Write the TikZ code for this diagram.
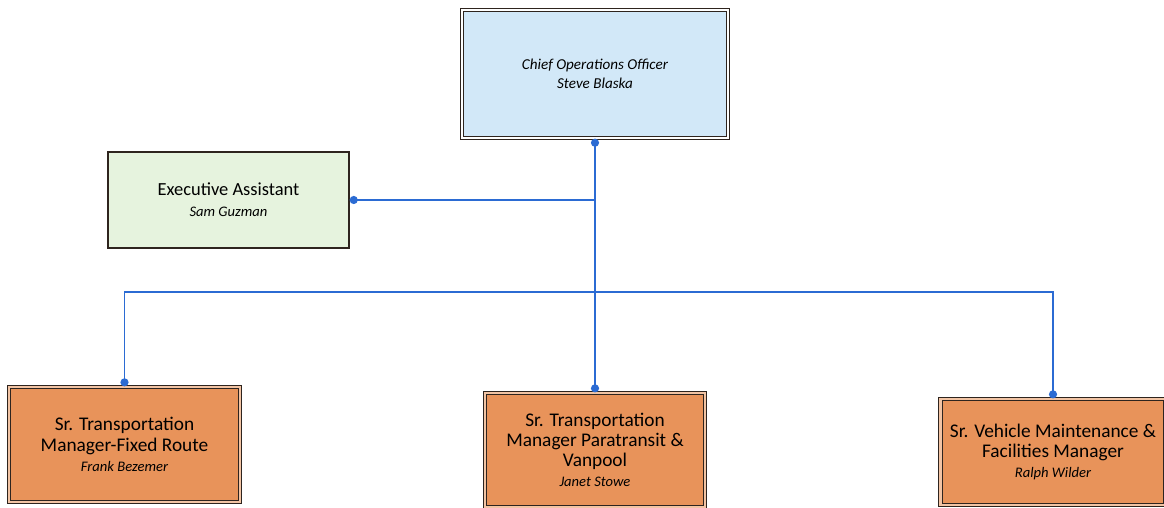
\documentclass[tikz,border=0pt]{standalone}
\usepackage{fontspec}
\setmainfont{Carlito}
\usetikzlibrary{arrows.meta}
\definecolor{cooblue}{HTML}{D2E8F8}
\definecolor{eagreen}{HTML}{E6F3DE}
\definecolor{mgrorange}{HTML}{E8935A}
\definecolor{linkblue}{HTML}{2B6BD3}
\definecolor{edgedark}{HTML}{2E241E}
\tikzset{every node/.style={align=center}, font=\fontsize{11}{11.5}\selectfont,
  box/.style={rectangle, draw=edgedark, line width=0.6pt, minimum width=4.5cm, minimum height=2.2cm},
  headbox/.style={box, fill=cooblue, double=white, double distance=1.2pt, line width=0.8pt},
  asstbox/.style={box, fill=eagreen, line width=0.8pt},
  mgrbox/.style={box, fill=mgrorange, double=mgrorange!55, double distance=1.2pt, line width=0.7pt},
  conn/.style={color=linkblue, line width=0.8pt},
  >={Circle[length=4.6pt]}}
\newcommand{\who}[1]{{\fontsize{8.3}{11}\selectfont\itshape #1}}

\begin{document}
\begin{tikzpicture}
            \useasboundingbox (0,0) rectangle (23.28,10.16);
            \node[headbox, minimum width=5.32cm, minimum height=2.56cm, font=\fontsize{8.6}{11}\selectfont\itshape] (coo) at (11.9,8.68) {Chief Operations Officer \\ Steve Blaska};
            \node[asstbox, minimum width=4.82cm, minimum height=1.92cm, font=\fontsize{10.5}{12}\selectfont] (ea) at (4.57,6.16) {Executive Assistant \\ \who{Sam Guzman}};
            \node[mgrbox, minimum width=4.62cm, minimum height=2.3cm] (fr) at (2.49,1.27) {Sr. Transportation \\ Manager-Fixed Route \\ \who{Frank Bezemer}};
            \node[mgrbox, minimum width=4.4cm, minimum height=2.28cm] (pv) at (11.9,1.16) {Sr. Transportation \\ Manager Paratransit \& \\ Vanpool \\ \who{Janet Stowe}};
            \node[mgrbox, minimum width=4.5cm, minimum height=2.12cm] (vm) at (21.06,1.12) {Sr. Vehicle Maintenance \& \\ Facilities Manager \\ \who{Ralph Wilder}};
            \coordinate (bus) at (0,4.32);
            % reporting lines
            \path[conn] (coo.south) edge[<->] (pv.north)
                (ea.east) edge[<-] (ea.east -| coo.south);
            \draw[conn, <->] (fr.north) -- (fr.north |- bus) -- (vm.north |- bus) -- (vm.north);
        \end{tikzpicture}
\end{document}
